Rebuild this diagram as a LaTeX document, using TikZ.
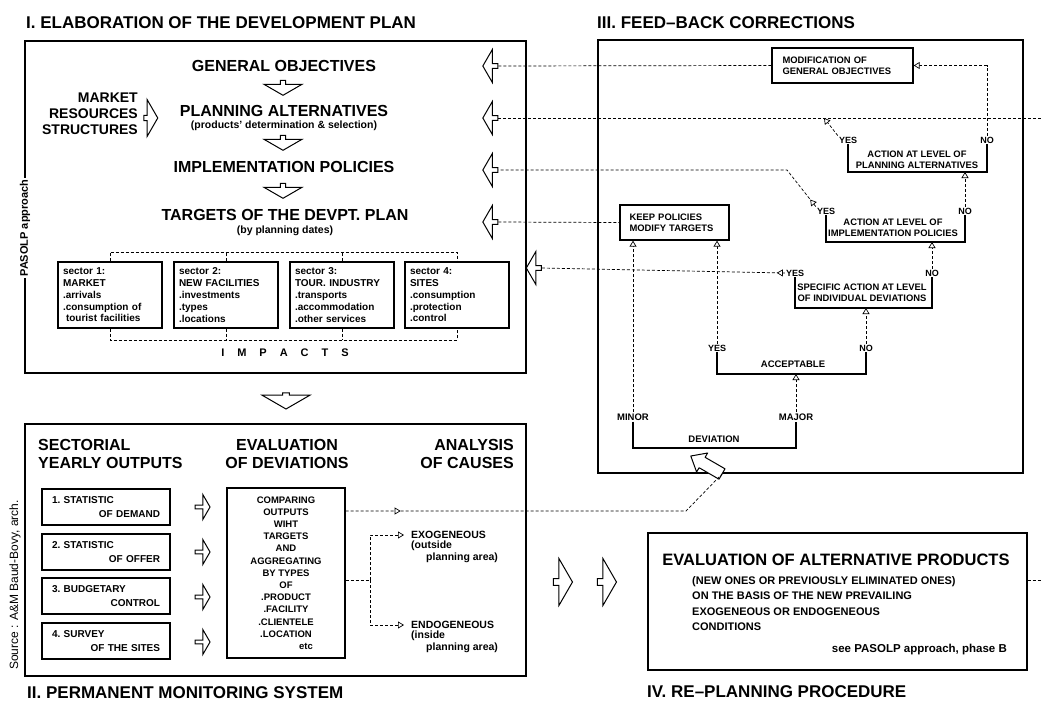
\documentclass[tikz,border=0pt]{standalone}
\usepackage{fontspec}
\setmainfont{Liberation Sans}
\usetikzlibrary{arrows.meta, positioning, shapes.arrows, decorations.markings}

\tikzset{
  frame/.style={draw, line width=1.1pt},
  inbox/.style={draw, line width=1.3pt, inner sep=0pt},
  bracket/.style={draw, line width=1.2pt},
  fbline/.style={line width=0.7pt, dash pattern=on 3pt off 2pt},
  opentip/.style={-{Triangle[fill=white, length=6pt, width=7pt]}},
  tipat/.style={postaction={decorate}, decoration={markings,
      mark=at position #1 with {\arrow{Triangle[fill=white, length=6pt, width=7pt]}}}},
  hollow/.style={draw, line width=1pt, fill=white, single arrow, inner sep=0pt,
      single arrow head extend=3pt, single arrow tip angle=120},
  titlef/.style={font=\fontsize{17}{19}\selectfont\bfseries, inner sep=0pt},
  headf/.style={font=\fontsize{16}{18}\selectfont\bfseries, inner sep=0pt},
  subf/.style={font=\fontsize{10.5}{12}\selectfont\bfseries, inner sep=0pt},
  secf/.style={font=\fontsize{10}{11.8}\selectfont\bfseries},
  smallf/.style={font=\fontsize{9.4}{11}\selectfont\bfseries, inner sep=0pt},
  yn/.style={font=\fontsize{9}{10}\selectfont\bfseries, inner sep=1pt},
  causef/.style={font=\fontsize{10.5}{11.5}\selectfont\bfseries, inner sep=1pt},
}

\begin{document}
\begin{tikzpicture}[x=1pt, y=-1pt]
\useasboundingbox (0,0) rectangle (1041,702);

% I. elaboration of the plan
\draw[frame] (25,41) rectangle (526,373);
\node[titlef, anchor=west] (t1) at (26,23) {I.\ ELABORATION OF THE DEVELOPMENT PLAN};
\node[fill=white, rotate=90, inner sep=2pt, font=\fontsize{11}{12}\selectfont\bfseries] (pasolp) at (25,228) {PASOLP approach};

\node[headf] (go) at (284,66) {GENERAL OBJECTIVES};
\node[hollow, shape border rotate=270, minimum height=15pt, minimum width=38pt] (da1) at (283,87) {};
\node[headf] (pa) at (284,111) {PLANNING ALTERNATIVES};
\node[subf] (pas) at (284,126) {(products' determination \& selection)};
\node[hollow, shape border rotate=270, minimum height=15pt, minimum width=38pt] (da2) at (283,142) {};
\node[headf] (ip) at (284,167) {IMPLEMENTATION POLICIES};
\node[hollow, shape border rotate=270, minimum height=15pt, minimum width=38pt] (da3) at (283,190) {};
\node[headf] (tg) at (285,215) {TARGETS OF THE DEVPT. PLAN};
\node[subf] (tgs) at (285,231) {(by planning dates)};

\node[font=\fontsize{14}{16}\selectfont\bfseries, inner sep=0pt, align=right, anchor=east] (mk) at (138,114) {MARKET\\RESOURCES\\STRUCTURES};
\node[hollow, minimum height=14pt, minimum width=37pt] (ma) at (150,118) {};

% sectors
\node[inbox, secf, minimum width=104pt, minimum height=66pt, text width=94pt, align=left] (s1) at (110,295) {sector 1:\\MARKET\\.arrivals\\.consumption of\\\hspace*{0.3em}tourist facilities};
\node[inbox, secf, minimum width=104pt, minimum height=66pt, text width=94pt, align=left] (s2) at (226,295) {sector 2:\\NEW FACILITIES\\.investments\\.types\\.locations};
\node[inbox, secf, minimum width=104pt, minimum height=66pt, text width=94pt, align=left] (s3) at (342,295) {sector 3:\\TOUR. INDUSTRY\\.transports\\.accommodation\\.other services};
\node[inbox, secf, minimum width=104pt, minimum height=66pt, text width=94pt, align=left] (s4) at (457,295) {sector 4:\\SITES\\.consumption\\.protection\\.control};

\coordinate (imtop) at (284,252);
\coordinate (imbot) at (284,340);
\draw[fbline] (s1.north) |- (imtop) -| (s4.north);
\draw[fbline] (s2.north) -- (s2.north |- imtop);
\draw[fbline] (s3.north) -- (s3.north |- imtop);
\draw[fbline] (s1.south) |- (imbot) -| (s4.south);
\draw[fbline] (s2.south) -- (s2.south |- imbot);
\draw[fbline] (s3.south) -- (s3.south |- imbot);
\node[font=\fontsize{11}{13}\selectfont\bfseries] (imp) at (285,353) {I\hskip13pt M\hskip13pt P\hskip13pt A\hskip13pt C\hskip13pt T\hskip13pt S};

% feed-back arrows into I
\node[hollow, shape border rotate=180, minimum height=15pt, minimum width=33pt] (fb1) at (491,66) {};
\node[hollow, shape border rotate=180, minimum height=15pt, minimum width=33pt] (fb2) at (491,118) {};
\node[hollow, shape border rotate=180, minimum height=15pt, minimum width=33pt] (fb3) at (491,170) {};
\node[hollow, shape border rotate=180, minimum height=15pt, minimum width=33pt] (fb4) at (491,222) {};
\node[hollow, shape border rotate=180, minimum height=15pt, minimum width=33pt] (fb5) at (534.5,268) {};

\node[hollow, shape border rotate=270, minimum height=16pt, minimum width=48pt] (da4) at (286,400) {};

% II. monitoring system
\draw[frame] (25,424) rectangle (526,676);
\node[titlef, anchor=west] (t2) at (27,693) {II.\ PERMANENT MONITORING SYSTEM};
\node[rotate=90, font=\fontsize{12}{14}\selectfont] (src) at (15,585) {Source : A\&M Baud-Bovy, arch.};
\node[headf, align=left, anchor=west] (sec) at (38,454) {SECTORIAL\\YEARLY OUTPUTS};
\node[headf, align=center] (evd) at (287,454) {EVALUATION\\OF DEVIATIONS};
\node[headf, align=right, anchor=east] (anc) at (514,454) {ANALYSIS\\OF CAUSES};

\node[inbox, font=\fontsize{10}{14}\selectfont\bfseries, minimum width=128pt, minimum height=36pt, text width=108pt, align=left] (b1) at (106,507) {1.\ STATISTIC\\\hfill OF DEMAND};
\node[inbox, font=\fontsize{10}{14}\selectfont\bfseries, minimum width=128pt, minimum height=36pt, text width=108pt, align=left] (b2) at (106,552) {2.\ STATISTIC\\\hfill OF OFFER};
\node[inbox, font=\fontsize{10}{14}\selectfont\bfseries, minimum width=128pt, minimum height=36pt, text width=108pt, align=left] (b3) at (106,596) {3.\ BUDGETARY\\\hfill CONTROL};
\node[inbox, font=\fontsize{10}{14}\selectfont\bfseries, minimum width=128pt, minimum height=36pt, text width=108pt, align=left] (b4) at (106,641) {4.\ SURVEY\\\hfill OF THE SITES};

\node[hollow, minimum height=15pt, minimum width=25pt] (ra1) at (202,507) {};
\node[hollow, minimum height=15pt, minimum width=25pt] (ra2) at (202,552) {};
\node[hollow, minimum height=15pt, minimum width=25pt] (ra3) at (202,597) {};
\node[hollow, minimum height=15pt, minimum width=25pt] (ra4) at (202,642) {};

\node[inbox, font=\fontsize{9.5}{12.2}\selectfont\bfseries, minimum width=118pt, minimum height=170pt, align=center] (cb) at (286,573) {COMPARING\\OUTPUTS\\WIHT\\TARGETS\\AND\\AGGREGATING\\BY TYPES\\OF\\.PRODUCT\\.FACILITY\\.CLIENTELE\\.LOCATION\\\hspace*{40pt}etc};

\node[causef, anchor=west] (exo) at (410,535) {EXOGENEOUS};
\node[causef, anchor=north west, align=left] (exo2) at (exo.south west) {(outside\\\hspace*{15pt}planning area)};
\node[causef, anchor=west] (endo) at (410,625) {ENDOGENEOUS};
\node[causef, anchor=north west, align=left] (endo2) at (endo.south west) {(inside\\\hspace*{15pt}planning area)};

\coordinate (jn) at (370,580);
\draw[fbline] (cb.east |- jn) -- (jn);
\draw[fbline, opentip, shorten >=6pt] (jn) |- (exo.west);
\draw[fbline, opentip, shorten >=6pt] (jn) |- (endo.west);

% III. feed-back corrections
\draw[frame] (598,40) rectangle (1023,473);
\node[titlef, anchor=west] (t3) at (597,23) {III.\ FEED--BACK CORRECTIONS};

\node[inbox, smallf, minimum width=141pt, minimum height=35pt, text width=120pt, align=left] (mod) at (842.5,65.5) {MODIFICATION OF\\GENERAL OBJECTIVES};
\node[inbox, smallf, minimum width=109pt, minimum height=35pt, text width=90pt, align=left] (kp) at (674.5,222.5) {KEEP POLICIES\\MODIFY TARGETS};

\node[yn] (yes1) at (848,140) {YES};
\node[yn] (no1) at (987,140) {NO};
\node[smallf, align=center] (pal) at (917,160) {ACTION AT LEVEL OF\\PLANNING ALTERNATIVES};
\coordinate (pab) at (917,172);
\draw[bracket] (yes1.south) |- (pab) -| (no1.south);

\node[yn] (yes2) at (826,211) {YES};
\node[yn] (no2) at (965,211) {NO};
\node[smallf, align=center] (ipl) at (893,228) {ACTION AT LEVEL OF\\IMPLEMENTATION POLICIES};
\coordinate (ipb) at (895,242);
\draw[bracket] (yes2.south) |- (ipb) -| (no2.south);

\node[yn] (yes3) at (795,273) {YES};
\node[yn] (no3) at (932,273) {NO};
\node[smallf, align=center] (spl) at (862,293) {SPECIFIC ACTION AT LEVEL\\OF INDIVIDUAL DEVIATIONS};
\coordinate (spb) at (863,308);
\draw[bracket] (yes3.south) |- (spb) -| (no3.south);

\node[yn] (yes4) at (717,348) {YES};
\node[yn] (no4) at (866,348) {NO};
\node[font=\fontsize{9.5}{11}\selectfont\bfseries] (acl) at (793,364) {ACCEPTABLE};
\coordinate (acb) at (791,374);
\draw[bracket] (yes4.south) |- (acb) -| (no4.south);

\node[yn, font=\fontsize{9.5}{11}\selectfont\bfseries] (minor) at (633,417) {MINOR};
\node[yn, font=\fontsize{9.5}{11}\selectfont\bfseries] (major) at (796,417) {MAJOR};
\node[font=\fontsize{9.5}{11}\selectfont\bfseries] (dvl) at (714,439) {DEVIATION};
\coordinate (dvb) at (714,448);
\draw[bracket] (minor.south) |- (dvb) -| (major.south);

% deviation arrow, slanted
\draw[line width=1pt, fill=white, line join=round] (725,468.8) -- (705.1,457.3) -- (707.6,453) -- (690.8,456)
  -- (696.6,472) -- (699.1,467.7) -- (719,479.2) -- cycle;
\coordinate (dvt) at (722,474);

% dashed connections
\draw[fbline] (fb1.east) -- (mod.west);
\draw[fbline, opentip] (no1.north) |- (mod.east);
\coordinate (edgeA) at (1041,118);
\draw[fbline] (fb2.east) -- (edgeA);
\coordinate (pj) at (824,118);
\draw[fbline, opentip] (yes1.north west) -- (pj);
\coordinate (ipj) at (787,170);
\draw[fbline, tipat=9pt] (yes2.north west) -- (ipj) -- (fb3.east);
\draw[fbline] (fb4.east) -- (kp.west);
\draw[fbline, tipat=8pt] (yes3.west) -- (fb5.east);
\draw[fbline, opentip] (no2.north) -- (no2.north |- pab);
\draw[fbline, opentip] (no3.north) -- (no3.north |- ipb);
\draw[fbline, opentip] (no4.north) -- (no4.north |- spb);
\draw[fbline, opentip] (major.north) -- (major.north |- acb);
\draw[fbline, opentip] (minor.north) -- (minor.north |- kp.south);
\draw[fbline, opentip] (yes4.north) -- (yes4.north |- kp.south);

\coordinate (bend) at (686,511);
\draw[fbline, tipat=55pt] (cb.east |- bend) -- (bend) -- (dvt);

% IV. re-planning procedure
\node[hollow, minimum height=19pt, minimum width=47pt] (rb1) at (562,582) {};
\node[hollow, minimum height=19pt, minimum width=47pt] (rb2) at (606,582) {};
\node[frame, inner sep=0pt, minimum width=379pt, minimum height=137pt] (ev) at (837.5,601.5) {};
\node[font=\fontsize{16.5}{19}\selectfont\bfseries, inner sep=0pt] (eap) at (836,560) {EVALUATION OF ALTERNATIVE PRODUCTS};
\node[font=\fontsize{11}{15.5}\selectfont\bfseries, inner sep=0pt, align=left, anchor=north west] (eapt) at (692,576) {(NEW ONES OR PREVIOUSLY ELIMINATED ONES)\\ON THE BASIS OF THE NEW PREVAILING\\EXOGENEOUS OR ENDOGENEOUS\\CONDITIONS};
\node[font=\fontsize{11.5}{13}\selectfont\bfseries, inner sep=0pt, anchor=east] (see) at (1007,650) {see PASOLP approach, phase B};
\node[titlef, anchor=west] (t4) at (647,692) {IV.\ RE--PLANNING PROCEDURE};
\coordinate (edgeB) at (1041,580);
\draw[fbline] (ev.east |- edgeB) -- (edgeB);

\end{tikzpicture}
\end{document}
